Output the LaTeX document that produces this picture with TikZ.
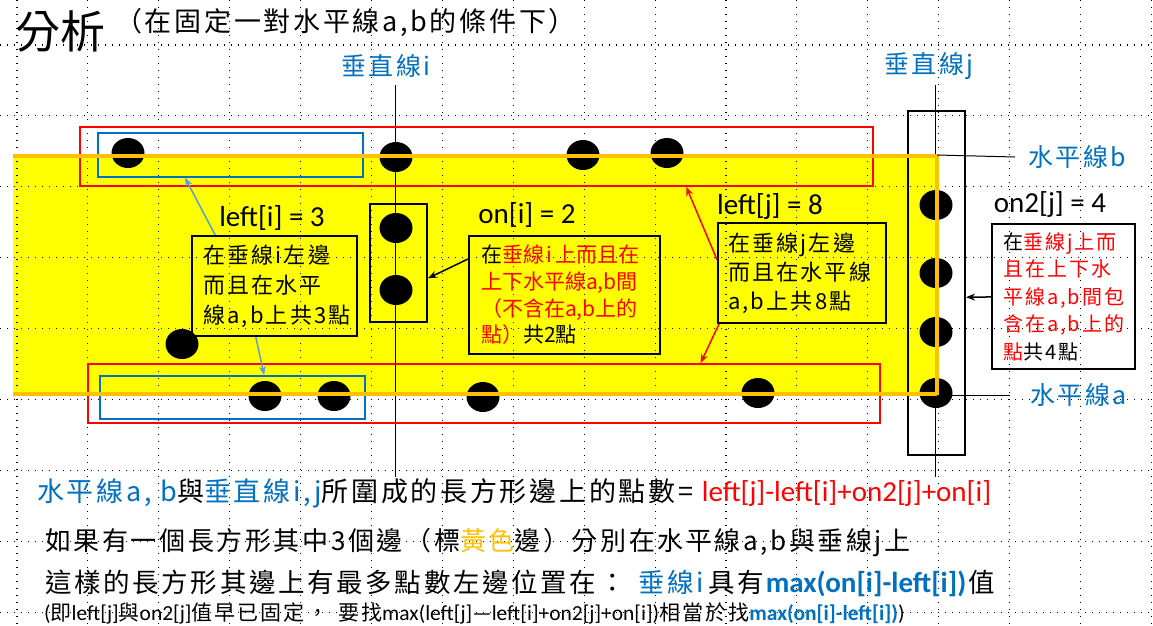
\documentclass[tikz,border=0pt]{standalone}
\usepackage{fontspec}
\setmainfont{Carlito}
\newfontfamily\cjk{Noto Sans CJK TC}
\newfontfamily\cjkw[LetterSpace=10]{Noto Sans CJK TC}
\usetikzlibrary{calc,arrows.meta}
\definecolor{myblue}{HTML}{0070C0}
\definecolor{ablue}{HTML}{5B9BD5}
\definecolor{myorange}{HTML}{FFC000}
\definecolor{myred}{HTML}{FF0000}
\definecolor{myyellow}{HTML}{FFFF00}
\definecolor{gblue}{HTML}{0000FF}
\newcommand{\fs}[2]{\fontsize{#1pt}{#2pt}\selectfont}
\begin{document}
\begin{tikzpicture}[x=1pt,y=-1pt,
  dotline/.style={line width=1.1pt, dash pattern=on 1.1pt off 5.9pt},
  redrect/.style={draw=myred, line width=1.8pt, anchor=north west, inner sep=0pt},
  bluerect/.style={draw=myblue, line width=1.8pt, anchor=north west, inner sep=0pt},
  blkrect/.style={draw=black, line width=2pt, anchor=north west, inner sep=0pt},
  tbox/.style={draw=black, line width=2pt, anchor=north west, inner ysep=0pt, align=left},
  dot/.style={fill=black},
  vline/.style={line width=1pt},
  lat/.style={font={\fs{29}{32}}, inner sep=0pt},
  bluelab/.style={font={\cjkw\fs{25}{28}}, text=myblue, inner sep=0pt},
  arr/.style={line width=1.5pt, -{Stealth[length=9pt,width=7pt]}},
  txt/.style={anchor=west, inner sep=0pt}
]
\path[use as bounding box, fill=white] (0,0) rectangle (1153,625);

% grid
\foreach \k in {0,...,16} \draw[dotline] ({17+70.9*\k},0) -- ({17+70.9*\k},625);
\foreach \k in {0,...,8} \draw[dotline] (0,{45+70.9*\k}) -- (1153,{45+70.9*\k});

% yellow region
\fill[myyellow] (13,156) rectangle (937,394);
\begin{scope}
\clip (13,156) rectangle (937,394);
\foreach \k in {0,...,16} \draw[dotline, gblue] ({17+70.9*\k},0) -- ({17+70.9*\k},625);
\foreach \k in {0,...,8} \draw[dotline, gblue] (0,{45+70.9*\k}) -- (1153,{45+70.9*\k});
\end{scope}

% title
\node[txt, font={\cjk\fs{45}{47}}] (title) at (15,32) {分析};
\node[txt, font={\cjkw\fs{27}{29}}] (subtitle) at (115,23) {（在固定一對水平線a,b的條件下）};

% vertical lines
\coordinate (itop) at (395,85);
\coordinate (ibot) at (395,477);
\coordinate (jtop) at (935,85);
\coordinate (jbot) at (935,477);
\draw[vline] (itop) -- (ibot);
\draw[vline] (jtop) -- (jbot);
\node[bluelab] (labi) at (386,66) {垂直線i};
\node[bluelab] (labj) at (929,66) {垂直線j};

% rectangles
\node[redrect, minimum width=793, minimum height=59] (redtop) at (79,126) {};
\node[redrect, minimum width=792, minimum height=59] (redbot) at (87,363) {};
\node[bluerect, minimum width=265, minimum height=44] (bluetop) at (97,132) {};
\node[bluerect, minimum width=265, minimum height=43] (bluebot) at (99,375) {};
\node[blkrect, minimum width=57, minimum height=118] (oniv) at (369,203) {};
\node[blkrect, minimum width=57, minimum height=344] (jbox) at (907,110) {};

% points
\foreach \p in {(128,153),(396,157),(583,155),(667,153),
                (396,228),(396,290),(182,344),
                (265,396),(334,396),(483,397),(758,393),
                (936,205),(936,273),(936,332),(936,393)}
  \fill[dot] \p ellipse [x radius=16.5, y radius=15];

% orange edges of yellow region
\draw[myorange, line width=3.5pt] (13,156) -- (937,156) -- (937,394) -- (13,394);

% horizontal line labels
\node[bluelab, anchor=west] (labb) at (1028,157) {水平線b};
\node[bluelab, anchor=west] (laba) at (1030,395) {水平線a};
\coordinate (hb) at (937,155);
\coordinate (ha) at (937,395);
\draw[vline] (hb) -- ([xshift=-13pt]labb.west);
\draw[vline] (ha) -- ([xshift=-20pt]laba.west);

% value labels
\node[lat] (lefti) at (272,218) {left[i] = 3};
\node[lat] (oni) at (527,215) {on[i] = 2};
\node[lat] (leftj) at (770,206) {left[j] = 8};
\node[lat] (on2j) at (1050,204) {on2[j] = 4};

% text boxes
\node[tbox, text width=143, inner xsep=11, minimum height=100,
      font={\cjkw\fs{22}{30}}] (leftibox) at (191,235)
  {在垂線i左邊\\而且在水平\\線a,b上共3點};
\node[tbox, text width=167, inner xsep=12, minimum height=118,
      font={\cjk\fs{21}{26.7}}] (onibox) at (468,235)
  {在{\color{myred}垂線\hspace{3pt}i\hspace{3pt}上而且在}\\{\color{myred}上下水平線a,b間}\\{\color{myred}（不含在a,b上的}\\{\color{myred}點）}共2點};
\node[tbox, text width=148, inner xsep=10, minimum height=100,
      font={\cjkw\fs{22}{29}}] (leftjbox) at (717,222)
  {在垂線j左邊\\而且在水平線\\a,b上共8點};
\node[tbox, text width=121, inner xsep=11, minimum height=145,
      font={\cjkw\fs{20}{27.5}}] (on2jbox) at (991,223)
  {在{\color{myred}垂線j上而}\\{\color{myred}且在上下水}\\{\color{myred}平線a,b間包}\\{\color{myred}含在a,b上的}\\{\color{myred}點}共4點};

% arrows
\draw[arr, ablue] ($(leftibox.north west)!0.145!(leftibox.north east)$) -- ($(bluetop.south west)!0.33!(bluetop.south east)$);
\draw[arr, ablue] ($(leftibox.south west)!0.388!(leftibox.south east)$) -- ($(bluebot.north west)!0.619!(bluebot.north east)$);
\draw[arr, black] ($(onibox.north west)!0.2!(onibox.south west)$) -- ($(oniv.north east)!0.627!(oniv.south east)$);
\draw[arr, myred] ($(leftjbox.north west)!0.37!(leftjbox.south west)$) -- ($(redtop.south west)!0.764!(redtop.south east)$);
\draw[arr, myred] ($(leftjbox.south west)!0.012!(leftjbox.south east)$) -- ($(redbot.north west)!0.773!(redbot.north east)$);
\draw[arr, black] ($(on2jbox.north west)!0.503!(on2jbox.south west)$) -- ($(jbox.north east)!0.541!(jbox.south east)$);

% bottom text
\node[txt, font={\cjkw\fs{27}{30}}] (line1) at (37,493)
  {{\color{myblue}水平線a, b}與{\color{myblue}垂直線i,j}所圍成的長方形邊上的點數=\ {\fs{29}{30}\rmfamily\color{myred}left[j]-left[i]+on2[j]+on[i]}};
\node[txt, font={\cjkw\fs{26}{30}}] (line2) at (45,543)
  {如果有一個長方形其中3個邊（標{\color{myorange}黃色}邊）分別在水平線a,b與垂線j上};
\node[txt, font={\cjkw\fs{26.5}{30}}] (line3) at (45,583)
  {這樣的長方形其邊上有最多點數左邊位置在：\hspace{13pt}{\color{myblue}垂線i}\hspace{4pt}具有\hspace{2pt}{\rmfamily\bfseries\fs{29}{30}\color{myblue}max(on[i]-left[i])}\hspace{2pt}值};
\node[txt, font={\fs{21.5}{24}}] (line4) at (44,613)
  {({\cjkw\fs{21}{24}即}left[j]{\cjkw\fs{21}{24}與}on2[j]{\cjkw\fs{21}{24}值早已固定，\hspace{10pt}要找}max(left[j]—left[i]+on2[j]+on[i]){\cjkw\fs{21}{24}相當於找}{\bfseries\color{myblue}max(on[i]-left[i])})};
\end{tikzpicture}
\end{document}
